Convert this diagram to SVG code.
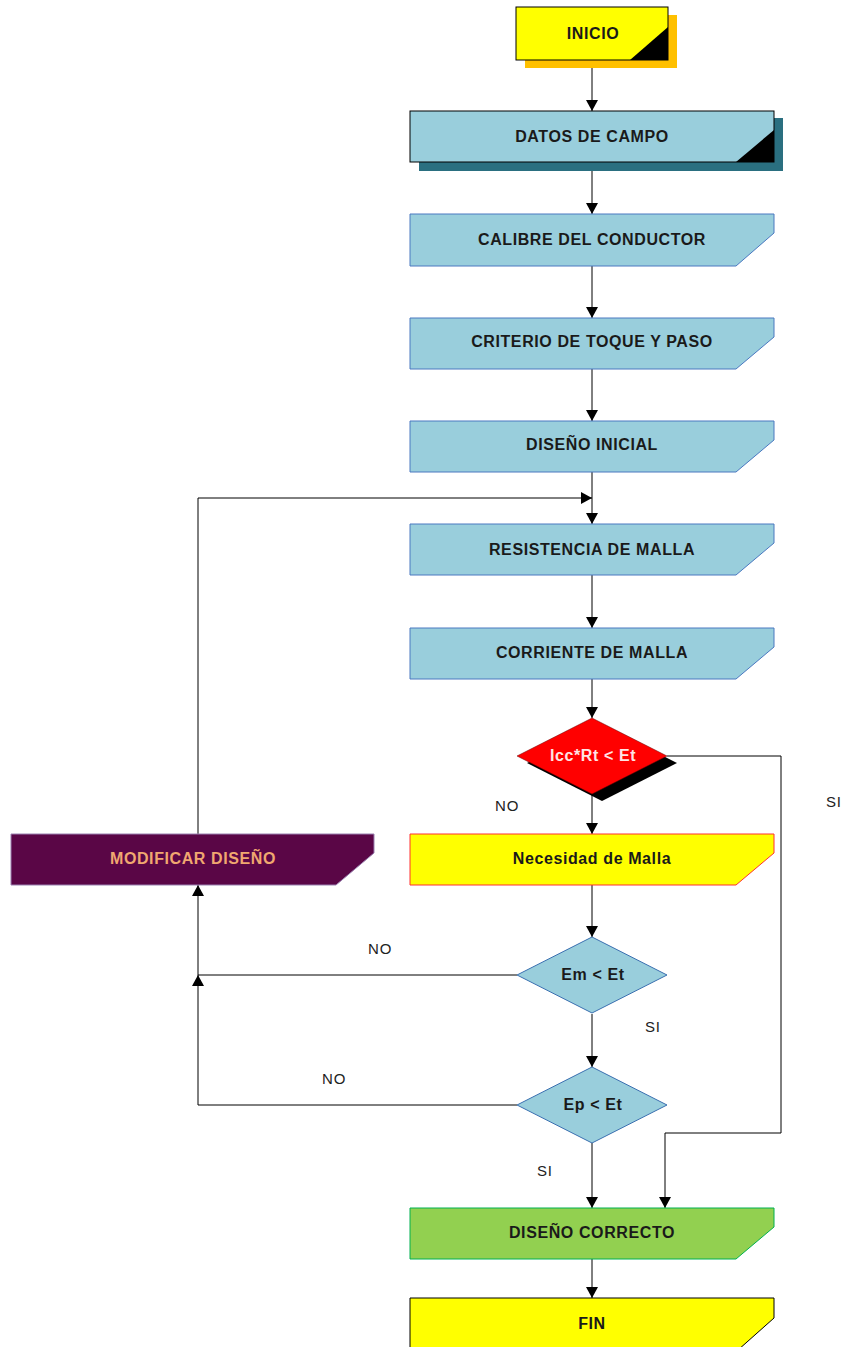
<svg xmlns="http://www.w3.org/2000/svg" width="841" height="1347" viewBox="0 0 841 1347">
<defs>
<marker id="arr" markerUnits="userSpaceOnUse" markerWidth="12" markerHeight="12" refX="11" refY="6" orient="auto">
<path d="M0,0 L11,6 L0,12 z" fill="#000"/>
</marker>
<style>
.t{font-family:"Liberation Sans",Arial,sans-serif;font-weight:bold;font-size:16px;letter-spacing:0.6px;text-anchor:middle;fill:#1a1a1a}
.lb{font-family:"Liberation Sans",Arial,sans-serif;font-size:15px;letter-spacing:0.8px;fill:#222}
.proc{fill:#99CEDC;stroke:#4A78C0;stroke-width:1}
.dia{fill:#99CEDC;stroke:#3A6FB0;stroke-width:1}
.c{fill:none;stroke:#000;stroke-width:1}
.ca{fill:none;stroke:#000;stroke-width:1;marker-end:url(#arr)}
</style>
</defs>
<rect width="841" height="1347" fill="#fff"/>
<g id="connectors">
<path class="ca" d="M592,60 V111"/>
<path class="ca" d="M592,162 V214"/>
<path class="ca" d="M592,266 V318"/>
<path class="ca" d="M592,369 V421"/>
<path class="ca" d="M592,472 V524"/>
<path class="ca" d="M592,575 V628"/>
<path class="ca" d="M592,679 V718"/>
<path class="ca" d="M592,794 V834"/>
<path class="ca" d="M592,885 V937"/>
<path class="ca" d="M592,1014 V1067"/>
<path class="ca" d="M592,1143 V1208"/>
<path class="ca" d="M592,1259 V1298"/>
<path class="ca" d="M198,834 V498 H592"/>
<path class="ca" d="M517,975 H198 V885"/>
<path class="ca" d="M517,1105 H198 V975"/>
<path class="ca" d="M667,756 H781 V1133 H665 V1208"/>
</g>
<g id="n-inicio">
<rect x="525" y="15" width="152" height="53" fill="#FFC000"/>
<rect x="516" y="7" width="152" height="53" fill="#FFFF00" stroke="#000" stroke-width="1"/>
<polygon points="630,60 668,60 668,27" fill="#000"/>
<text class="t" x="593" y="39">INICIO</text>
</g>
<g id="n-datos">
<rect x="419" y="118" width="364" height="53" fill="#2A6F80"/>
<rect x="410" y="111" width="364" height="51" fill="#99CEDC" stroke="#000" stroke-width="1"/>
<polygon points="736,162 774,162 774,130" fill="#000"/>
<text class="t" x="592" y="142">DATOS DE CAMPO</text>
</g>
<g id="n-calibre">
<polygon class="proc" points="410,214 774,214 774,233 736,266 410,266"/>
<text class="t" x="592" y="245">CALIBRE DEL CONDUCTOR</text>
</g>
<g id="n-criterio">
<polygon class="proc" points="410,318 774,318 774,337 736,369 410,369"/>
<text class="t" x="592" y="347">CRITERIO DE TOQUE Y PASO</text>
</g>
<g id="n-disinicial">
<polygon class="proc" points="410,421 774,421 774,440 736,472 410,472"/>
<text class="t" x="592" y="450">DISEÑO INICIAL</text>
</g>
<g id="n-resistencia">
<polygon class="proc" points="410,524 774,524 774,543 736,575 410,575"/>
<text class="t" x="592" y="555">RESISTENCIA DE MALLA</text>
</g>
<g id="n-corriente">
<polygon class="proc" points="410,628 774,628 774,647 736,679 410,679"/>
<text class="t" x="592" y="658">CORRIENTE DE MALLA</text>
</g>
<g id="n-icc">
<polygon points="602,725 677,763 602,801 527,763" fill="#000"/>
<polygon points="592,718 667,756 592,794 517,756" fill="#FF0000" stroke="#600" stroke-width="0.5"/>
<text class="t" x="593" y="761" style="fill:#FFE4E4">Icc*Rt &lt; Et</text>
</g>
<g id="n-necesidad">
<polygon points="410,834 774,834 774,853 736,885 410,885" fill="#FFFF00" stroke="#FF3030" stroke-width="1"/>
<text class="t" x="592" y="864">Necesidad de Malla</text>
</g>
<g id="n-modificar">
<polygon points="11,834 374,834 374,853 336,885 11,885" fill="#5A0646" stroke="#9A80B0" stroke-width="1"/>
<text class="t" x="193" y="864" style="fill:#F0A870">MODIFICAR DISEÑO</text>
</g>
<g id="n-em">
<polygon class="dia" points="592,937 667,975 592,1013 517,975"/>
<text class="t" x="593" y="980">Em &lt; Et</text>
</g>
<g id="n-ep">
<polygon class="dia" points="592,1067 667,1105 592,1143 517,1105"/>
<text class="t" x="593" y="1110">Ep &lt; Et</text>
</g>
<g id="n-correcto">
<polygon points="410,1208 774,1208 774,1227 736,1259 410,1259" fill="#92D050" stroke="#00B050" stroke-width="1"/>
<text class="t" x="592" y="1238">DISEÑO CORRECTO</text>
</g>
<g id="n-fin">
<polygon points="410,1298 774,1298 774,1318 738,1350 410,1350" fill="#FFFF00" stroke="#000" stroke-width="1"/>
<text class="t" x="592" y="1329">FIN</text>
</g>
<g id="labels">
<text class="lb" x="495" y="811">NO</text>
<text class="lb" x="826" y="807">SI</text>
<text class="lb" x="368" y="954">NO</text>
<text class="lb" x="645" y="1032">SI</text>
<text class="lb" x="322" y="1084">NO</text>
<text class="lb" x="537" y="1176">SI</text>
</g>
</svg>
